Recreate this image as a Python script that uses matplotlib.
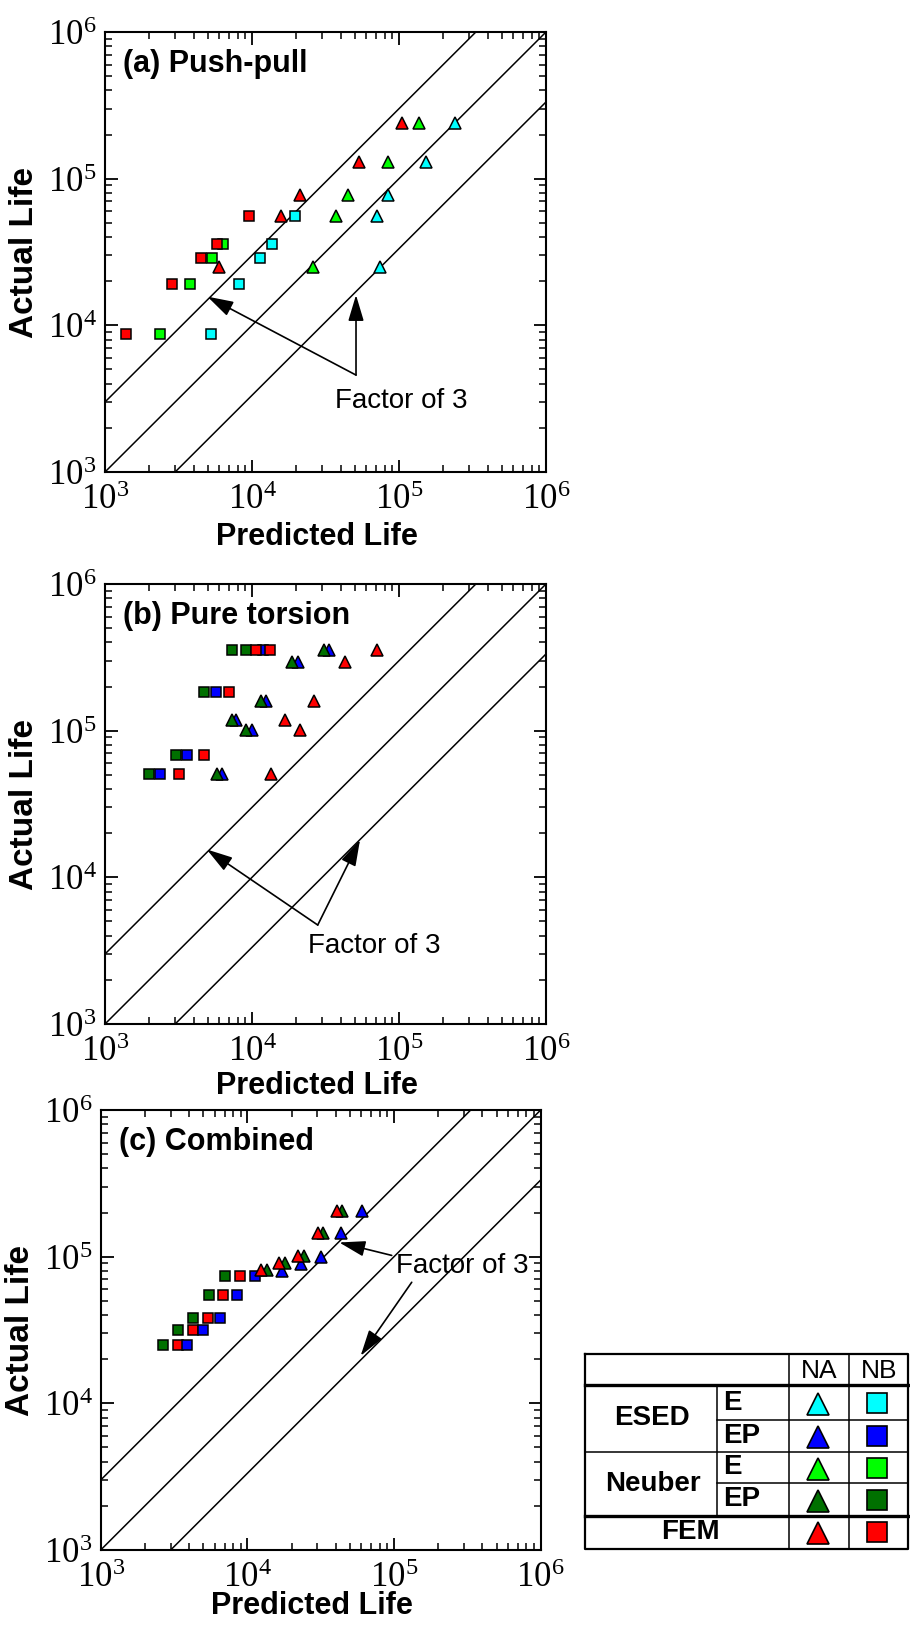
import numpy as np
import matplotlib
matplotlib.use('Agg')
import matplotlib.pyplot as plt
from matplotlib.ticker import FuncFormatter, LogLocator

plt.rcParams['font.family'] = ['Liberation Sans', 'DejaVu Sans']
plt.rcParams['mathtext.fontset'] = 'custom'
plt.rcParams['mathtext.rm'] = 'Liberation Serif'
plt.rcParams['mathtext.default'] = 'rm'

# colours of the methods
c_esed_e = '#00ffff'
c_esed_ep = '#0000ff'
c_neub_e = '#00ff00'
c_neub_ep = '#007000'
c_fem = '#ff0000'

# ---- (a) push-pull ----
pp_tri_y = [2.4e5, 1.29e5, 7.7e4, 5.56e4, 2.5e4]
pp_tri_esed_e = [2.40e5, 1.52e5, 8.45e4, 7.05e4, 7.43e4]
pp_tri_neub_e = [1.37e5, 8.45e4, 4.48e4, 3.71e4, 2.61e4]
pp_tri_fem = [1.04e5, 5.37e4, 2.12e4, 1.57e4, 5.97e3]

pp_sq_y = [8.77e3, 1.92e4, 2.88e4, 3.59e4, 5.56e4]
pp_sq_esed_e = [5.24e3, 8.2e3, 1.13e4, 1.36e4, 1.95e4]
pp_sq_neub_e_y = [8.77e3, 1.92e4, 2.88e4, 3.59e4]
pp_sq_neub_e = [2.38e3, 3.78e3, 5.35e3, 6.38e3]
pp_sq_fem = [1.38e3, 2.84e3, 4.5e3, 5.75e3, 9.54e3]

# ---- (b) pure torsion ----
pt_tri_y = [3.55e5, 2.93e5, 1.6e5, 1.18e5, 1.01e5, 5.07e4]
pt_tri_esed_ep = [3.36e4, 2.05e4, 1.24e4, 7.8e3, 9.95e3, 6.25e3]
pt_tri_neub_ep = [3.09e4, 1.86e4, 1.15e4, 7.27e3, 9.14e3, 5.82e3]
pt_tri_fem = [7.05e4, 4.29e4, 2.65e4, 1.67e4, 2.13e4, 1.35e4]

pt_sq_esed_ep_y = [3.55e5, 1.84e5, 6.82e4, 5.07e4]
pt_sq_esed_ep = [1.18e4, 5.69e3, 3.61e3, 2.35e3]
pt_sq_neub_ep_y = [3.55e5, 3.55e5, 1.84e5, 6.82e4, 5.07e4]
pt_sq_neub_ep = [7.35e3, 9.1e3, 4.71e3, 3.04e3, 2.0e3]
pt_sq_fem_y = [3.55e5, 3.55e5, 1.84e5, 6.82e4, 5.07e4]
pt_sq_fem = [1.06e4, 1.32e4, 7.0e3, 4.71e3, 3.2e3]

# ---- (c) combined ----
cb_tri_y = [8.11e4, 9.06e4, 1.01e5, 1.44e5, 2.06e5]
cb_tri_esed_ep_y = [8.0e4, 8.9e4, 1.0e5, 1.44e5, 2.06e5]
cb_tri_esed_ep = [1.71e4, 2.31e4, 3.18e4, 4.33e4, 6.03e4]
cb_tri_neub_ep = [1.36e4, 1.81e4, 2.43e4, 3.30e4, 4.45e4]
cb_tri_fem = [1.23e4, 1.65e4, 2.23e4, 3.02e4, 4.11e4]

cb_sq_y = [2.51e4, 3.15e4, 3.82e4, 5.48e4, 7.41e4]
cb_sq_esed_ep = [3.85e3, 5.01e3, 6.51e3, 8.55e3, 1.12e4]
cb_sq_neub_ep = [2.65e3, 3.35e3, 4.28e3, 5.51e3, 7.05e3]
cb_sq_fem = [3.35e3, 4.28e3, 5.42e3, 6.85e3, 8.91e3]

# scatter band lines
factors = [3, 1, 1/3]
life_range = np.array([1e2, 1e7])

# legend table
leg_methods = ['ESED', 'Neuber', 'FEM']
leg_types = ['E', 'EP', 'E', 'EP', '']
leg_colors = [c_esed_e, c_esed_ep, c_neub_e, c_neub_ep, c_fem]

MS_SQ = 7.5
MS_TRI = 8.6
MEW = 1.1

fig = plt.figure(figsize=(9.1, 16.25), dpi=100)


def setup(ax, title, xlab_y=-0.148):
    ax.set_xscale('log')
    ax.set_yscale('log')
    ax.set_xlim(1e3, 1e6)
    ax.set_ylim(1e3, 1e6)
    for f in factors:
        ax.plot(life_range, life_range * f, color='k', lw=1.1, zorder=1)
    fmt = FuncFormatter(lambda v, p: r'$\mathrm{10^{%d}}$' % round(np.log10(v)))
    ax.xaxis.set_major_formatter(fmt)
    ax.yaxis.set_major_formatter(fmt)
    ax.xaxis.set_major_locator(LogLocator(base=10, numticks=10))
    ax.yaxis.set_major_locator(LogLocator(base=10, numticks=10))
    ax.xaxis.set_minor_locator(LogLocator(base=10, subs=np.arange(2, 10), numticks=20))
    ax.yaxis.set_minor_locator(LogLocator(base=10, subs=np.arange(2, 10), numticks=20))
    ax.xaxis.set_minor_formatter(plt.NullFormatter())
    ax.yaxis.set_minor_formatter(plt.NullFormatter())
    ax.tick_params(which='both', direction='in', top=True, right=True, labelsize=25)
    ax.tick_params(which='major', length=9, width=1.3)
    ax.tick_params(which='minor', length=5, width=1.1)
    ax.tick_params(axis='x', pad=8)
    ax.tick_params(axis='y', pad=6)
    for s in ax.spines.values():
        s.set_linewidth(1.5)
    ax.set_xlabel('Predicted Life', fontsize=22, fontweight='bold', va='center')
    ax.xaxis.set_label_coords(0.48, xlab_y)
    ax.set_ylabel('Actual Life', fontsize=24, fontweight='bold', va='center')
    ax.yaxis.set_label_coords(-0.182, 0.5)
    ax.text(0.041, 0.962, title, transform=ax.transAxes, fontsize=22,
            fontweight='bold', va='top', ha='left')


def pts(ax, x, y, marker, color):
    ms = MS_TRI if marker == '^' else MS_SQ
    ax.plot(x, y, linestyle='none', marker=marker, ms=ms, mfc=color,
            mec='k', mew=MEW, zorder=3)


def factor_note(ax, text_xy, vertex, tips):
    ax.text(text_xy[0], text_xy[1], 'Factor of 3', fontsize=20, ha='left',
            va='center', zorder=4)
    for tip, start in zip(tips, vertex):
        ax.annotate('', xy=tip, xytext=start,
                    arrowprops=dict(arrowstyle='-|>,head_length=0.8,head_width=0.24',
                                    color='k', lw=1.2, shrinkA=0, shrinkB=0,
                                    mutation_scale=20), zorder=4)


# (a)
ax1 = fig.add_axes([105/910, 1 - 472/1625, 441/910, 440/1625])
setup(ax1, '(a) Push-pull')
pts(ax1, pp_tri_esed_e, pp_tri_y, '^', c_esed_e)
pts(ax1, pp_tri_neub_e, pp_tri_y, '^', c_neub_e)
pts(ax1, pp_tri_fem, pp_tri_y, '^', c_fem)
pts(ax1, pp_sq_esed_e, pp_sq_y, 's', c_esed_e)
pts(ax1, pp_sq_neub_e, pp_sq_neub_e_y, 's', c_neub_e)
pts(ax1, pp_sq_fem, pp_sq_y, 's', c_fem)
factor_note(ax1, (3.67e4, 3.05e3), [(5.1e4, 4.58e3), (5.1e4, 4.58e3)],
            [(4.97e3, 1.57e4), (5.1e4, 1.61e4)])

# (b)
ax2 = fig.add_axes([105/910, 1 - 1024/1625, 441/910, 440/1625])
setup(ax2, '(b) Pure torsion', -0.14)
pts(ax2, pt_tri_esed_ep, pt_tri_y, '^', c_esed_ep)
pts(ax2, pt_tri_neub_ep, pt_tri_y, '^', c_neub_ep)
pts(ax2, pt_tri_fem, pt_tri_y, '^', c_fem)
pts(ax2, pt_sq_esed_ep, pt_sq_esed_ep_y, 's', c_esed_ep)
pts(ax2, pt_sq_neub_ep, pt_sq_neub_ep_y, 's', c_neub_ep)
pts(ax2, pt_sq_fem, pt_sq_fem_y, 's', c_fem)
factor_note(ax2, (2.4e4, 3.4e3), [(2.8e4, 4.73e3), (2.8e4, 4.73e3)],
            [(4.92e3, 1.55e4), (5.43e4, 1.8e4)])

# (c)
ax3 = fig.add_axes([100.7/910, 1 - 1550/1625, 440/910, 440/1625])
setup(ax3, '(c) Combined', -0.128)
pts(ax3, cb_sq_neub_ep, cb_sq_y, 's', c_neub_ep)
pts(ax3, cb_sq_fem, cb_sq_y, 's', c_fem)
pts(ax3, cb_sq_esed_ep, cb_sq_y, 's', c_esed_ep)
pts(ax3, cb_tri_esed_ep, cb_tri_esed_ep_y, '^', c_esed_ep)
pts(ax3, cb_tri_neub_ep, cb_tri_y, '^', c_neub_ep)
pts(ax3, cb_tri_fem, cb_tri_y, '^', c_fem)
factor_note(ax3, (1.03e5, 8.57e4), [(9.64e4, 1.02e5), (1.32e5, 6.69e4)],
            [(4.23e4, 1.25e5), (5.92e4, 2.11e4)])

# ---- legend table (drawn in pixel units of its own box) ----
tab = fig.add_axes([585/910, 1 - 1549/1625, 323/910, 195/1625])
tab.set_xlim(0, 323)
tab.set_ylim(195, 0)
tab.axis('off')
col = [0, 131.7, 204.3, 264.3, 323]
row = [0, 31, 66, 97.7, 129.3, 161.7, 195]
lk = dict(color='k', clip_on=False, solid_capstyle='projecting')
# outer box
tab.plot([0, 323, 323, 0, 0], [0, 0, 195, 195, 0], lw=1.6, **lk)
# thick separators
tab.plot([0, 323], [row[1], row[1]], lw=2.4, **lk)
tab.plot([0, 323], [row[5], row[5]], lw=2.4, **lk)
# normal separators
tab.plot([0, 323], [row[3], row[3]], lw=1.1, **lk)
tab.plot([col[1], 323], [row[2], row[2]], lw=1.1, **lk)
tab.plot([col[1], 323], [row[4], row[4]], lw=1.1, **lk)
tab.plot([col[1], col[1]], [row[1], row[5]], lw=1.1, **lk)
tab.plot([col[2], col[2]], [0, 195], lw=1.1, **lk)
tab.plot([col[3], col[3]], [0, 195], lw=1.1, **lk)

tab.text((col[2] + col[3]) / 2, row[1] / 2 + 1, 'NA', fontsize=19, ha='center', va='center')
tab.text((col[3] + col[4]) / 2, row[1] / 2 + 1, 'NB', fontsize=19, ha='center', va='center')
tab.text(66.7, (row[1] + row[3]) / 2, leg_methods[0], fontsize=20, fontweight='bold',
         ha='center', va='center')
tab.text(68, (row[3] + row[5]) / 2, leg_methods[1], fontsize=20, fontweight='bold',
         ha='center', va='center')
tab.text(105, (row[5] + row[6]) / 2, leg_methods[2], fontsize=20, fontweight='bold',
         ha='center', va='center')
for i, t in enumerate(leg_types):
    yc = (row[i + 1] + row[i + 2]) / 2
    if t:
        tab.text(col[1] + 6, yc, t, fontsize=20, fontweight='bold', ha='left', va='center')
    tab.plot([(col[2] + col[3]) / 2 - 1], [yc + 1], marker='^', ms=16, mfc=leg_colors[i],
             mec='k', mew=1.2, clip_on=False)
    tab.plot([(col[3] + col[4]) / 2 - 2], [yc], marker='s', ms=14, mfc=leg_colors[i],
             mec='k', mew=1.2, clip_on=False)

fig.savefig('out.png', dpi=100)
